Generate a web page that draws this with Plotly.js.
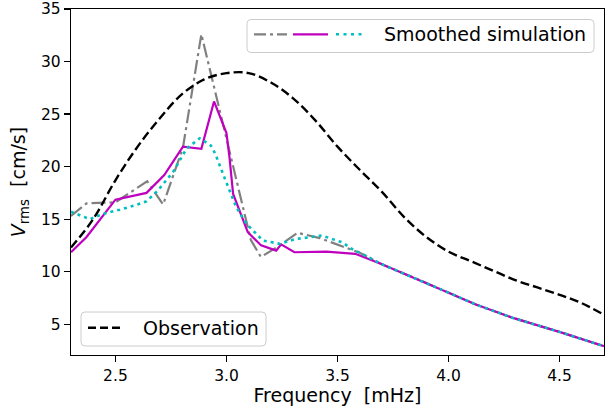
<!DOCTYPE html>
<html>
<head>
<meta charset="utf-8">
<script src="https://cdn.plot.ly/plotly-3.0.1.min.js"></script>
<style>html,body{margin:0;padding:0;background:#fff;}#chart{width:606px;height:406px;}</style>
</head>
<body>
<div id="chart"></div>
<script>
// ---- data ----
const obsX = [2.3,2.4,2.5,2.6,2.7,2.8,2.9,3.0,3.1,3.2,3.3,3.4,3.5,3.6,3.7,3.8,3.9,4.0,4.1,4.2,4.3,4.4,4.5,4.6,4.7];
const obsY = [12.3,15.0,18.7,21.9,24.6,26.9,28.3,28.9,28.9,28.0,26.5,24.4,21.9,19.7,17.6,15.2,13.3,11.9,11.0,10.1,9.2,8.5,7.8,7.0,5.9];

const rawX = [2.3,2.37,2.5,2.643,2.715,2.804,2.887,3.0,3.11,3.155,3.24,3.32,3.42,3.6,3.7,3.87,4.0,4.12,4.29,4.51,4.7];
const rawY = [15.3,16.5,16.6,18.6,16.4,21.8,32.6,22.6,13.0,11.4,12.5,13.7,13.2,11.8,10.7,9.2,8.0,6.9,5.6,4.2,2.9];

const smAX = [2.3,2.37,2.5,2.64,2.72,2.804,2.887,2.944,3.0,3.014,3.03,3.096,3.156,3.224,3.246,3.306,3.45,3.58,3.7,3.87,4.0,4.12,4.29,4.51,4.7];
const smAY = [11.85,13.3,16.85,17.5,19.2,21.9,21.7,26.2,23.2,20.8,17.4,13.76,12.5,12.0,12.6,11.85,11.9,11.7,10.7,9.2,8.0,6.9,5.6,4.2,2.9];

const smBX = [2.3,2.385,2.445,2.52,2.6,2.64,2.69,2.76,2.82,2.88,2.93,2.95,2.99,3.044,3.09,3.14,3.164,3.24,3.31,3.43,3.52,3.57,3.6,3.7,3.87,4.0,4.12,4.29,4.51,4.7];
const smBY = [15.7,15.0,15.5,15.9,16.4,16.7,17.7,19.5,21.7,22.7,22.0,21.2,19.0,16.15,14.55,13.45,12.96,12.65,13.1,13.44,12.8,12.1,11.8,10.7,9.2,8.0,6.9,5.6,4.2,2.9];

const xTicks = [2.5,3.0,3.5,4.0,4.5];
const xTickText = ['2.5','3.0','3.5','4.0','4.5'];
const yTicks = [5,10,15,20,25,30,35];
const yTickText = ['5','10','15','20','25','30','35'];

const labelObs = 'Observation';
const labelSim = 'Smoothed simulation';

// ---- layout geometry ----
const W = 606, H = 406, ML = 71, MR = 2, MT = 9, MB = 51;
const PW = W - ML - MR, PH = H - MT - MB;
const px = v => (v - ML) / PW;
const py = v => (H - MB - v) / PH;
const FONT = 'DejaVu Sans, sans-serif';

function roundRect(x0, y0, x1, y1, r) {
  // pixel coords -> paper path with rounded corners
  const rx = r / PW, ry = r / PH;
  const L = px(x0), R = px(x1), T = py(y0), B = py(y1);
  return `M${L+rx},${B} L${R-rx},${B} Q${R},${B} ${R},${B+ry} L${R},${T-ry} Q${R},${T} ${R-rx},${T} L${L+rx},${T} Q${L},${T} ${L},${T-ry} L${L},${B+ry} Q${L},${B} ${L+rx},${B} Z`;
}

const traces = [
  {x: rawX, y: rawY, mode: 'lines', line: {color: '#808080', width: 2.2, dash: '14px,4px,3px,4px'}, hoverinfo: 'skip'},
  {x: smAX, y: smAY, mode: 'lines', line: {color: '#bf00bf', width: 2.2}, hoverinfo: 'skip'},
  {x: smBX, y: smBY, mode: 'lines', line: {color: '#00bfbf', width: 2.6, dash: '3px,4px'}, hoverinfo: 'skip'},
  {x: obsX, y: obsY, mode: 'lines', line: {color: '#000000', width: 2.4, dash: '9px,4px', shape: 'spline', smoothing: 1}, hoverinfo: 'skip'}
];

const shapes = [
  {type: 'path', xref: 'paper', yref: 'paper', path: roundRect(247, 19.5, 594, 52.5, 4),
   fillcolor: 'rgba(255,255,255,0.8)', line: {color: '#cccccc', width: 1}},
  {type: 'line', xref: 'paper', yref: 'paper', x0: px(254), x1: px(287), y0: py(34.3), y1: py(34.3),
   line: {color: '#808080', width: 2.2, dash: '12px,4px,3px,4px'}},
  {type: 'line', xref: 'paper', yref: 'paper', x0: px(293), x1: px(328), y0: py(34.3), y1: py(34.3),
   line: {color: '#bf00bf', width: 2.2}},
  {type: 'line', xref: 'paper', yref: 'paper', x0: px(336), x1: px(366), y0: py(34.3), y1: py(34.3),
   line: {color: '#00bfbf', width: 2.6, dash: '3px,4.5px'}},
  {type: 'path', xref: 'paper', yref: 'paper', path: roundRect(81, 312, 266, 346, 4),
   fillcolor: 'rgba(255,255,255,0.8)', line: {color: '#cccccc', width: 1}},
  {type: 'line', xref: 'paper', yref: 'paper', x0: px(88), x1: px(124), y0: py(327.7), y1: py(327.7),
   line: {color: '#000000', width: 2.4, dash: '8px,4px'}}
];

const annotations = [
  {xref: 'paper', yref: 'paper', x: px(382), y: py(34.5), xanchor: 'left', yanchor: 'middle', showarrow: false,
   text: labelSim, font: {family: FONT, size: 19, color: '#000'}},
  {xref: 'paper', yref: 'paper', x: px(141), y: py(328), xanchor: 'left', yanchor: 'middle', showarrow: false,
   text: labelObs, font: {family: FONT, size: 19, color: '#000'}}
];

const layout = {
  width: W, height: H,
  margin: {l: ML, r: MR, t: MT, b: MB, pad: 0},
  paper_bgcolor: '#fff', plot_bgcolor: '#fff',
  showlegend: false,
  font: {family: FONT, color: '#000'},
  xaxis: {
    range: [2.3, 4.7], tickvals: xTicks, ticktext: xTickText,
    showgrid: false, zeroline: false, showline: true, mirror: true, linecolor: '#000', linewidth: 1.2,
    ticks: 'outside', ticklen: 6, tickwidth: 1.2, tickcolor: '#000',
    tickfont: {family: FONT, size: 15.5, color: '#000'},
    title: {text: 'Frequency\u00a0\u00a0[mHz]', font: {family: FONT, size: 19, color: '#000'}, standoff: 8}
  },
  yaxis: {
    range: [2.07, 35.0], tickvals: yTicks, ticktext: yTickText,
    showgrid: false, zeroline: false, showline: true, mirror: true, linecolor: '#000', linewidth: 1.2,
    ticks: 'outside', ticklen: 6, tickwidth: 1.2, tickcolor: '#000',
    tickfont: {family: FONT, size: 15.5, color: '#000'},
    title: {text: '<i>V</i><sub>rms</sub>\u00a0\u00a0[cm/s]', font: {family: FONT, size: 19, color: '#000'}, standoff: 10}
  },
  shapes: shapes,
  annotations: annotations
};

Plotly.newPlot('chart', traces, layout, {staticPlot: true, displayModeBar: false});
</script>
</body>
</html>
